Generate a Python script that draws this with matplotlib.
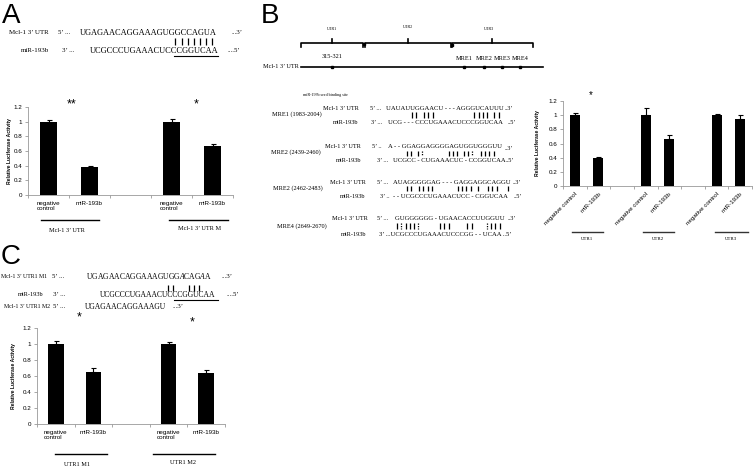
import matplotlib
matplotlib.use("Agg")
import matplotlib.pyplot as plt
import numpy as np

plt.rcParams['mathtext.fontset'] = 'custom'
plt.rcParams['mathtext.rm'] = 'Liberation Serif'
plt.rcParams['mathtext.it'] = 'Liberation Serif:italic'

W, H = 754, 467

# ---- data ----
cats_ac = ["negative\ncontrol", "miR-193b", "", "negative\ncontrol", "miR-193b"]
a_vals = [1.00, 0.38, None, 1.00, 0.67]
a_errs = [0.02, 0.01, None, 0.03, 0.02]

cats_b = ["negative control", "miR-193b", "", "negative control", "miR-193b",
          "", "negative control", "miR-193b"]
b_vals = [1.00, 0.39, None, 1.00, 0.67, None, 1.00, 0.95]
b_errs = [0.03, 0.02, None, 0.10, 0.05, None, 0.01, 0.05]

c_vals = [1.00, 0.65, None, 1.00, 0.64]
c_errs = [0.04, 0.05, None, 0.03, 0.03]

yticks = [0, 0.2, 0.4, 0.6, 0.8, 1.0, 1.2]
ytick_labels = ["0", "0.2", "0.4", "0.6", "0.8", "1", "1.2"]

fig = plt.figure(figsize=(W / 100, H / 100), dpi=100)

# overlay in pixel coordinates for all the sequence text and diagrams
ov = fig.add_axes([0, 0, 1, 1])
ov.set_xlim(0, W)
ov.set_ylim(H, 0)
ov.axis("off")

SERIF = "Liberation Serif"
SANS = "Liberation Sans"


def px_rect(x0, y0, x1, y1):
    return [x0 / W, 1 - y1 / H, (x1 - x0) / W, (y1 - y0) / H]


def bar_panel(rect, cats, vals, errs, rotate=False):
    ax = fig.add_axes(rect, zorder=2)
    ax.patch.set_alpha(0)
    n = len(cats)
    idx = [i for i, v in enumerate(vals) if v is not None]
    h = [vals[i] for i in idx]
    e = [errs[i] for i in idx]
    ax.bar(idx, h, width=0.42, color="black")
    ax.errorbar(idx, h, yerr=[np.zeros(len(e)), e], fmt="none", ecolor="black",
                elinewidth=0.8, capsize=1.8, capthick=0.8)
    ax.set_xlim(-0.5, n - 0.5)
    ax.set_ylim(0, 1.2)
    ax.set_yticks(yticks, ytick_labels, fontsize=4.5, family=SANS)
    if rotate:
        ax.set_xticks(range(n), cats, fontsize=4.5, family=SANS, rotation=45,
                      ha="right", rotation_mode="anchor")
    else:
        ax.set_xticks(range(n), cats, fontsize=4.5, family=SANS, ha="center",
                      multialignment="left")
    ax.set_xticks(np.arange(n + 1) - 0.5, minor=True)
    ax.tick_params(axis="x", which="major", length=0, pad=4)
    ax.tick_params(axis="x", which="minor", length=2.5, color="#999999", width=0.6)
    ax.tick_params(axis="y", length=2, color="#999999", width=0.6, pad=2)
    for s in ["top", "right"]:
        ax.spines[s].set_visible(False)
    for s in ["left", "bottom"]:
        ax.spines[s].set_color("#999999")
        ax.spines[s].set_linewidth(0.6)
    return ax


def t(x, y, s, size=5, ha="left", family=SERIF, **kw):
    ov.text(x, y, s, fontsize=size, ha=ha, va="center", family=family, **kw)


def star(x, y, s, size=9):
    # asterisks sit high in the em box, so nudge down
    ov.text(x, y + size * 0.3, s, fontsize=size, ha="center", va="center",
            family=SANS)


def pairs(xs, y0, y1, dotted=()):
    solid = [x for x in xs if x not in dotted]
    ov.vlines(solid, y0, y1, color="black", lw=0.9)
    if dotted:
        ov.vlines(list(dotted), y0, y1, color="black", lw=0.9, linestyles=(0, (1, 1)))


# ---------------- Panel A ----------------
t(2, 16, "A", size=20, family=SANS)
t(49, 33, "Mcl-1 3’ UTR", size=5, ha="right")
t(58, 33, "5’ ...", size=5)
t(80, 33, "UGAGAACAGGAAAGUGGCCAGUA", size=6)
t(232, 33, "...3’", size=5)
t(49, 51, "miR-193b", size=5, ha="right")
t(62, 51, "3’ ...", size=5)
t(90, 51, "UCGCCCUGAAACUCCCGGUCAA", size=6)
t(228, 51, "....5’", size=5)
ov.plot([174, 218], [55.5, 55.5], color="black", lw=0.8)
pairs([175, 181.5, 188, 194, 200, 206, 212], 38, 45)

axA = bar_panel(px_rect(28, 107, 233, 195), cats_ac, a_vals, a_errs)
star(72, 102, "**")
star(196, 102, "*")
ov.text(10, 151, "Relative Luciferase Activity", fontsize=3.6, rotation=90,
        ha="center", va="center", family=SANS, weight="bold")
ov.plot([41, 99], [220, 220], color="black", lw=1)
ov.plot([169, 228], [220, 220], color="black", lw=1)
t(67, 231, "Mcl-1 3’ UTR", size=4.5, ha="center")
t(200, 229, "Mcl-1 3’ UTR M", size=4.5, ha="center")

# ---------------- Panel B ----------------
t(261, 16, "B", size=20, family=SANS)
for lab, x, y in [("UTR1", 332, 29), ("UTR2", 408, 27), ("UTR3", 489, 29)]:
    t(x, y, lab, size=3, ha="center")
for x0, xm, x1 in [(301, 332, 363), (365, 408, 451), (452, 492, 533)]:
    ov.plot([x0, x0, x1, x1], [47, 43, 43, 47], color="black", lw=1.2)
    ov.plot([xm, xm], [43, 39], color="black", lw=1.2)
ov.plot([364, 451.5], [44, 45], "s", color="black", ms=1.8)

ov.plot([301, 543], [67, 67], color="black", lw=1.2)
ov.plot([332, 464, 484, 502, 520], [67] * 5, "s", color="black", ms=2)
t(299, 67, "Mcl-1 3’ UTR", size=4.5, ha="right")
t(332, 57, "315-321", size=4.5, ha="center")
for lab, x in [("MRE1", 464), ("MRE2", 484), ("MRE3", 502), ("MRE4", 520)]:
    t(x, 59, lab, size=4.5, ha="center")
t(303, 95, "miR-193b seed binding site", size=3)

S = 4.8
# MRE1
t(272, 114, "MRE1 (1983-2004)", size=4.5)
t(323, 108, "Mcl-1 3’ UTR", size=4.5)
t(370, 108, "5’ ...", size=4.5)
t(386, 108, "UAUAUUGGAACU - - - AGGGUCAUUU", size=S)
t(505, 108, "..3’", size=4.5)
t(333, 122, "miR-193b", size=4.5)
t(371, 122, "3’ ...", size=4.5)
t(388, 122, "UCG - - - CCCUGAAACUCCCGGUCAA", size=S)
t(508, 122, "..5’", size=4.5)
pairs([412, 416, 424, 428, 433, 474, 479, 483, 487, 494, 499], 112, 118)
# MRE2 (2439-2460)
t(271, 152, "MRE2 (2439-2460)", size=4.5)
t(325, 146, "Mcl-1 3’ UTR", size=4.5)
t(372, 146, "5’ ..", size=4.5)
t(388, 146, "A - - GGAGGAGGGGAGUGGUGGGUU", size=S)
t(505, 148, "..3’", size=4.5)
t(336, 160, "miR-193b", size=4.5)
t(377, 160, "3’ ...", size=4.5)
t(393, 160, "UCGCC - CUGAAACUC - CCGGUCAA", size=S)
t(506, 160, "..5’", size=4.5)
pairs([407, 411, 418, 422, 449, 453, 457, 464, 468, 472, 481, 485, 489, 494],
      151, 156, dotted=(422, 472))
# MRE2 (2462-2483)
t(273, 188, "MRE2 (2462-2483)", size=4.5)
t(330, 182, "Mcl-1 3’ UTR", size=4.5)
t(377, 182, "5’ ...", size=4.5)
t(393, 182, "AUAGGGGGAG - - - GAGGAGGCAGGU", size=S)
t(513, 182, "..3’", size=4.5)
t(340, 197, "miR-193b", size=4.5)
t(380, 197, "3’ ..", size=4.5)
t(393, 197, "- - UCGCCCUGAAACUCC - CGGUCAA", size=S)
t(514, 197, "..5’", size=4.5)
pairs([407, 411, 419, 423, 428, 432, 458, 462, 466, 471, 478, 488, 492, 497, 508],
      186, 191)
# MRE4
t(277, 226, "MRE4 (2649-2670)", size=4.5)
t(332, 219, "Mcl-1 3’ UTR", size=4.5)
t(377, 219, "5’ ...", size=4.5)
t(395, 219, "GUGGGGGG - UGAACACCUUGGUU", size=S)
t(508, 219, "..3’", size=4.5)
t(341, 235, "miR-193b", size=4.5)
t(379, 235, "3’ ...UCGCCCUGAAACUCCCGG - - UCAA ..5’", size=S)
pairs([397, 401, 406, 410, 414, 418, 440, 444, 449, 467, 472, 487, 491, 495, 500],
      223, 229, dotted=(401, 418, 487))

axB = bar_panel(px_rect(563, 101, 752, 186), cats_b, b_vals, b_errs, rotate=True)
star(591, 93, "*", size=7)
ov.text(538, 143, "Relative Luciferase Activity", fontsize=3.6, rotation=90,
        ha="center", va="center", family=SANS, weight="bold")
for x0, x1, lab in [(572, 603, "UTR1"), (643, 674, "UTR2"), (715, 748, "UTR3")]:
    ov.plot([x0, x1], [232, 232], color="#333333", lw=1)
    t((x0 + x1) / 2, 239, lab, size=3.5, ha="center")

# ---------------- Panel C ----------------
t(1, 257, "C", size=20, family=SANS)
t(1, 276, "Mcl-1 3’ UTR1 M1", size=4.2)
t(52, 276, "5’ ...", size=5)
t(86, 276, "UGAGAACAGGAAAGUGG$\\mathit{A}$CAG$\\mathit{A}$A", size=5.5)
t(222, 276, "...3’", size=5)
t(43, 295, "miR-193b", size=4.6, ha="right")
t(53, 295, "3’ ...", size=5)
t(100, 295, "UCGCCCUGAAACUCCCGGUCAA", size=5.5)
t(227, 295, "....5’", size=5)
ov.plot([174, 218], [299.5, 299.5], color="black", lw=0.8)
pairs([168, 173, 189, 194, 199], 285, 291)
t(4, 307, "Mcl-1 3’ UTR1 M2", size=4.2)
t(53, 307, "5’ ...", size=5)
t(85, 307, "UGAGAACAGGAAAGU", size=5.5)
t(173, 307, "...3’", size=5)

axC = bar_panel(px_rect(37, 328, 225, 424), cats_ac, c_vals, c_errs)
star(79, 315, "*")
star(192, 320, "*")
ov.text(14, 376, "Relative Luciferase Activity", fontsize=3.6, rotation=90,
        ha="center", va="center", family=SANS, weight="bold")
ov.plot([55, 107], [454, 454], color="black", lw=1)
ov.plot([153, 215], [454, 454], color="black", lw=1)
t(77, 464, "UTR1 M1", size=4.5, ha="center")
t(183, 463, "UTR1 M2", size=4.5, ha="center")

fig.savefig("out.png", dpi=100)
